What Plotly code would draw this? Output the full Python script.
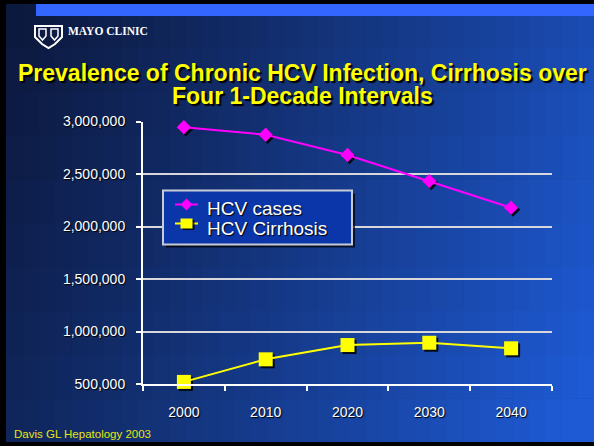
import plotly.graph_objects as go

# ---------------- data ----------------
years = ["2000", "2010", "2020", "2030", "2040"]
hcv_cases = [2945000, 2874000, 2681000, 2433000, 2179000]
hcv_cirrhosis = [520000, 735000, 871000, 893000, 840000]
y_tickvals = [500000, 1000000, 1500000, 2000000, 2500000, 3000000]
y_ticktext = ["500,000", "1,000,000", "1,500,000", "2,000,000", "2,500,000", "3,000,000"]
series_names = ["HCV cases", "HCV Cirrhosis"]
title_lines = ["Prevalence of Chronic HCV Infection, Cirrhosis over", "Four 1-Decade Intervals"]
citation = "Davis GL Hepatology 2003"

W, H = 594, 446
FONT = "Arial, 'Liberation Sans', sans-serif"


def px(x):
    return x / W


def py(y):
    return 1 - y / H


def pth(points, close=True):
    s = ""
    for cmd, x, y in points:
        s += "%s%.5f,%.5f " % (cmd, px(x), py(y))
    return s + ("Z" if close else "")


# plot area in pixels
L, R, T, B = 143, 552, 121.5, 384
SH = 2  # marker shadow offset

fig = go.Figure()

# marker shadows (on hidden, slightly shifted axes)
fig.add_trace(go.Scatter(x=years, y=hcv_cases, mode="markers", xaxis="x", yaxis="y",
                         marker=dict(symbol="diamond", size=11, color="rgba(0,0,0,0.85)"),
                         showlegend=False, hoverinfo="skip", cliponaxis=False))
fig.add_trace(go.Scatter(x=years, y=hcv_cirrhosis, mode="markers", xaxis="x", yaxis="y",
                         marker=dict(symbol="square", size=14, color="rgba(0,0,0,0.85)"),
                         showlegend=False, hoverinfo="skip", cliponaxis=False))

# main series
fig.add_trace(go.Scatter(x=years, y=hcv_cases, mode="lines+markers", name=series_names[0],
                         xaxis="x2", yaxis="y2", cliponaxis=False, showlegend=False,
                         line=dict(color="#ff00ff", width=2),
                         marker=dict(symbol="diamond", size=11, color="#ff00ff")))
fig.add_trace(go.Scatter(x=years, y=hcv_cirrhosis, mode="lines+markers", name=series_names[1],
                         xaxis="x2", yaxis="y2", cliponaxis=False, showlegend=False,
                         line=dict(color="#ffff00", width=2),
                         marker=dict(symbol="square", size=14, color="#ffff00")))

# ---------------- background decoration ----------------
shapes = []
dark = (12, 24, 60)
bright = (30, 90, 212)
X0, X1, Y0, Y1 = 6, 594, 4, 442
ncol, nrow = 36, 10
cw = (X1 - X0) / ncol
rh = (Y1 - Y0) / nrow
for i in range(ncol):
    for j in range(nrow):
        fx = (i + 0.5) / ncol
        fy = (j + 0.5) / nrow
        t = min(1.0, max(0.0, 0.8 * fx + 0.25 * fy))
        t = t ** 1.15
        c = tuple(int(round(dark[k] + (bright[k] - dark[k]) * t)) for k in range(3))
        shapes.append(dict(type="rect", xref="paper", yref="paper", layer="below",
                           x0=px(X0 + i * cw), x1=px(min(X1, X0 + (i + 1) * cw + 0.6)),
                           y0=py(min(Y1, Y0 + (j + 1) * rh + 0.6)), y1=py(Y0 + j * rh),
                           fillcolor="rgb(%d,%d,%d)" % c, line=dict(width=0)))
# top blue bar
shapes.append(dict(type="rect", xref="paper", yref="paper", layer="below",
                   x0=px(36), x1=px(594), y0=py(16), y1=py(4),
                   fillcolor="rgb(51,102,255)", line=dict(width=0)))

# Mayo shield (simplified)
shapes.append(dict(type="path", xref="paper", yref="paper",
                   path=pth([("M", 35, 26), ("L", 62, 26), ("L", 62, 37), ("L", 55, 44),
                             ("L", 48.5, 48), ("L", 42, 44), ("L", 35, 37)]),
                   fillcolor="rgba(0,0,0,0)", line=dict(color="white", width=2)))
for xa, xb in [(39, 46), (51, 58)]:
    shapes.append(dict(type="path", xref="paper", yref="paper",
                       path=pth([("M", xa, 29), ("L", xb, 29), ("L", xb, 36),
                                 ("L", (xa + xb) / 2, 40), ("L", xa, 36)]),
                       fillcolor="rgba(0,0,0,0)", line=dict(color="white", width=1.5)))

# ---------------- legend (drawn) ----------------
LX0, LX1, LY0, LY1 = 163, 352, 190.5, 244.5
shapes.append(dict(type="rect", xref="paper", yref="paper",
                   x0=px(LX0 + 3), x1=px(LX1 + 3), y0=py(LY1 + 3), y1=py(LY0 + 3),
                   fillcolor="rgba(0,0,0,0.7)", line=dict(width=0)))
shapes.append(dict(type="rect", xref="paper", yref="paper",
                   x0=px(LX0), x1=px(LX1), y0=py(LY1), y1=py(LY0),
                   fillcolor="rgb(10,54,170)", line=dict(color="rgb(200,204,215)", width=2)))
rows = [(204.5, 208.5), (223.5, 228)]  # (symbol centre y, text centre y)
cx = 186.5
# HCV cases symbol
sy = rows[0][0]
shapes.append(dict(type="line", xref="paper", yref="paper", x0=px(175), x1=px(198),
                   y0=py(sy), y1=py(sy), line=dict(color="#ff00ff", width=2)))
shapes.append(dict(type="path", xref="paper", yref="paper",
                   path=pth([("M", cx - 6, sy), ("L", cx, sy - 6), ("L", cx + 6, sy), ("L", cx, sy + 6)]),
                   fillcolor="#ff00ff", line=dict(width=0)))
# HCV Cirrhosis symbol
sy = rows[1][0]
shapes.append(dict(type="line", xref="paper", yref="paper", x0=px(175), x1=px(198),
                   y0=py(sy), y1=py(sy), line=dict(color="#ffff00", width=2)))
shapes.append(dict(type="rect", xref="paper", yref="paper",
                   x0=px(cx - 4), x1=px(cx + 8), y0=py(sy + 6.5), y1=py(sy - 3.5),
                   fillcolor="rgba(0,0,0,0.8)", line=dict(width=0)))
shapes.append(dict(type="rect", xref="paper", yref="paper",
                   x0=px(cx - 6), x1=px(cx + 6), y0=py(sy + 5), y1=py(sy - 5),
                   fillcolor="#ffff00", line=dict(width=0)))

legend_font = dict(family=FONT, size=19, color="white", shadow="1px 1px 1px #000")
title_font = dict(family=FONT, size=23, color="#ffff00", shadow="2px 2px 1px #000")

annotations = [
    dict(text="MAYO CLINIC", x=px(66), y=py(31), xref="paper", yref="paper",
         xanchor="left", yanchor="middle", showarrow=False,
         font=dict(family="'Liberation Serif', 'DejaVu Serif', serif", size=11.5,
                   color="white", weight="bold")),
    dict(text="<b>%s</b>" % title_lines[0], x=px(302), y=py(73), xref="paper", yref="paper",
         xanchor="center", yanchor="middle", showarrow=False, font=title_font),
    dict(text="<b>%s</b>" % title_lines[1], x=px(302), y=py(96), xref="paper", yref="paper",
         xanchor="center", yanchor="middle", showarrow=False, font=title_font),
    dict(text=series_names[0], x=px(205), y=py(rows[0][1]), xref="paper", yref="paper",
         xanchor="left", yanchor="middle", showarrow=False, font=legend_font),
    dict(text=series_names[1], x=px(205), y=py(rows[1][1]), xref="paper", yref="paper",
         xanchor="left", yanchor="middle", showarrow=False, font=legend_font),
    dict(text=citation, x=px(12), y=py(434), xref="paper", yref="paper",
         xanchor="left", yanchor="middle", showarrow=False,
         font=dict(family=FONT, size=11.5, color="#e6e610")),
]

tickfont = dict(family=FONT, size=14, color="white", shadow="1px 1px 1px #000")

fig.update_layout(
    width=W, height=H,
    autosize=False,
    margin=dict(l=0, r=0, t=0, b=0, pad=0, autoexpand=False),
    paper_bgcolor="black",
    plot_bgcolor="rgba(0,0,0,0)",
    shapes=shapes,
    annotations=annotations,
    showlegend=False,
    # shadow axes (hidden)
    xaxis=dict(domain=[px(L + SH), px(R + SH)], anchor="y", type="category",
               range=[-0.5, 4.5], visible=False, fixedrange=True, automargin=False),
    yaxis=dict(domain=[py(B + SH), py(T + SH)], anchor="x",
               range=[500000, 3000000], visible=False, fixedrange=True, automargin=False),
    # main axes
    xaxis2=dict(domain=[px(L), px(R)], anchor="y2", type="category", automargin=False,
                range=[-0.5, 4.5], showgrid=False, zeroline=False,
                showline=True, linecolor="white", linewidth=2,
                ticks="outside", tickson="boundaries", ticklen=5, tickcolor="white",
                tickwidth=2, ticklabelstandoff=14, tickfont=tickfont),
    yaxis2=dict(domain=[py(B), py(T)], anchor="x2", automargin=False,
                range=[500000, 3000000], tickvals=y_tickvals, ticktext=y_ticktext,
                showgrid=True, gridcolor="rgb(215,215,220)", gridwidth=1.5,
                zeroline=False, showline=True, linecolor="white", linewidth=2,
                ticks="outside", ticklen=5, tickcolor="white", tickwidth=2,
                ticklabelstandoff=8, tickfont=tickfont),
)

fig.write_html("out.html", config={"displayModeBar": False},
               post_script="document.body.style.margin='0px';document.body.style.background='black';")
